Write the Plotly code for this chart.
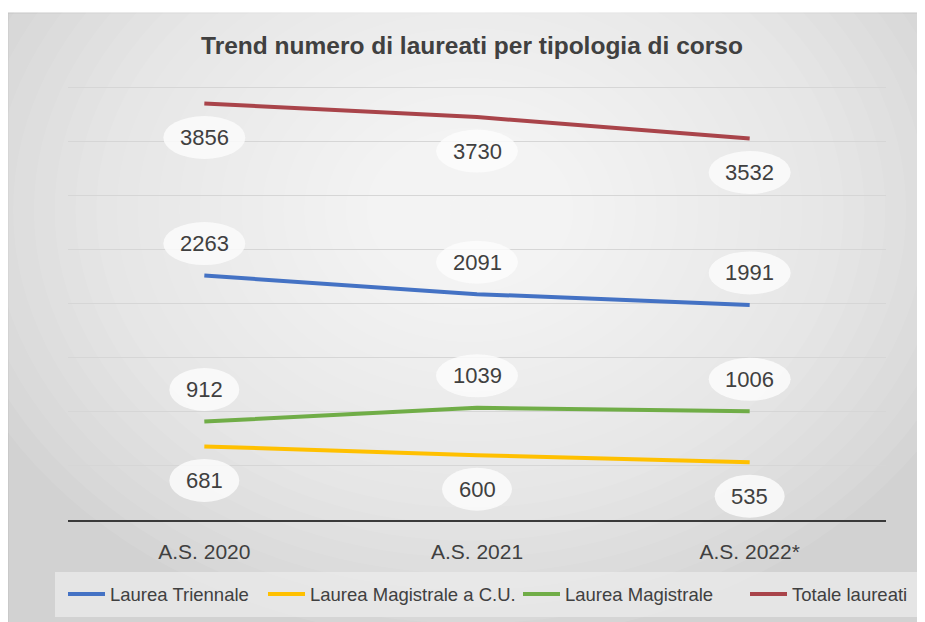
import plotly.graph_objects as go

# --- data -----------------------------------------------------------------
categories = ["A.S. 2020", "A.S. 2021", "A.S. 2022*"]
triennale = [2263, 2091, 1991]
magistrale_cu = [681, 600, 535]
magistrale = [912, 1039, 1006]
totale = [3856, 3730, 3532]

# name, values, colour, label offset in px (positive = above the line)
series = [
    ("Laurea Triennale", triennale, "#4472C4", 32),
    ("Laurea Magistrale a C.U.", magistrale_cu, "#FFC000", -34),
    ("Laurea Magistrale", magistrale, "#70AD47", 32),
    ("Totale laureati", totale, "#A9444A", -34),
]
# left edge (page px) of each hand-placed legend entry
legend_left = [68, 268, 523, 750]

FONT = "Liberation Sans, Arial, sans-serif"
TEXT = "#404040"
PAGE = 8  # body margin of the html page

# plot area in page pixels: x 68..886, y 86..520 (top gridline sits at 88)
L, R, T, B = 68, 886, 86, 520
W, H = R - L, B - T
Y_TOP = 4018  # a little headroom so the 4000 gridline is not clipped


def px_x(px):
    return (px - L) / W


def px_y(py):
    return (B - py) / H


xs = list(range(len(categories)))
fig = go.Figure()
for name, vals, color, _ in series:
    fig.add_trace(go.Scatter(
        x=xs, y=vals, name=name, mode="lines",
        line={"color": color, "width": 4},
        hoverinfo="skip",
    ))

shapes = []
# chart frame with a soft radial gradient
shapes.append(dict(
    type="rect", xref="paper", yref="paper", layer="below",
    x0=px_x(8), x1=px_x(940), y0=px_y(640), y1=px_y(13),
    fillcolor="#d2d2d2", line={"color": "#bfbfbf", "width": 1},
))
cx, cy = px_x(470), px_y(210)
rx, ry = 540 / W, 430 / H
n_rings = 26
for k in range(n_rings):
    s = 1 - k / n_rings
    shapes.append(dict(
        type="circle", xref="paper", yref="paper", layer="below",
        x0=cx - rx * s, x1=cx + rx * s, y0=cy - ry * s, y1=cy + ry * s,
        fillcolor="rgba(255,255,255,0.075)", line={"width": 0},
    ))
# legend panel
shapes.append(dict(
    type="rect", xref="paper", yref="paper", layer="below",
    x0=px_x(55), x1=px_x(920), y0=px_y(617), y1=px_y(572),
    fillcolor="rgba(236,236,236,0.7)", line={"width": 0},
))

annotations = []
for name, vals, color, off in series:
    for i, v in enumerate(vals):
        half_w = 41 if v >= 1000 else 35
        shapes.append(dict(
            type="circle", xref="x", yref="y", layer="above",
            xsizemode="pixel", ysizemode="pixel", xanchor=i, yanchor=v,
            x0=-half_w, x1=half_w, y0=off - 21.5, y1=off + 21.5,
            fillcolor="rgba(252,252,252,0.85)", line={"width": 0},
        ))
        annotations.append(dict(
            x=i, y=v, xref="x", yref="y", text=str(v), showarrow=False,
            yshift=off, font={"family": FONT, "size": 22, "color": TEXT},
        ))

# legend drawn by hand so it keeps one row at the reference positions
for (name, _, color, _), left in zip(series, legend_left):
    shapes.append(dict(
        type="line", xref="paper", yref="paper", layer="above",
        x0=px_x(left), x1=px_x(left + 37), y0=px_y(594), y1=px_y(594),
        line={"color": color, "width": 4},
    ))
    annotations.append(dict(
        x=px_x(left + 40), y=px_y(594), xref="paper", yref="paper",
        xanchor="left", yanchor="middle", text=name, showarrow=False,
        font={"family": FONT, "size": 18.5, "color": TEXT},
    ))

fig.update_layout(
    width=925, height=622,
    margin={"l": L - PAGE, "r": 925 - R + PAGE, "t": T - PAGE, "b": 622 - B + PAGE},
    paper_bgcolor="white", plot_bgcolor="rgba(0,0,0,0)",
    title={
        "text": "<b>Trend numero di laureati per tipologia di corso</b>",
        "x": px_x(472), "xref": "paper", "xanchor": "center",
        "y": 1 - (45 - PAGE) / 622, "yanchor": "middle",
        "font": {"family": FONT, "size": 24.5, "color": TEXT},
    },
    showlegend=False,
    shapes=shapes,
    annotations=annotations,
)
fig.update_xaxes(
    range=[-0.5, len(categories) - 0.5], tickvals=xs, ticktext=categories,
    showgrid=False, zeroline=False, showline=True, linecolor="#3a3a3a", linewidth=2,
    ticks="", ticklabelstandoff=12,
    tickfont={"family": FONT, "size": 21, "color": TEXT}, fixedrange=True,
)
fig.update_yaxes(
    range=[0, Y_TOP], dtick=500, showticklabels=False, showgrid=True,
    gridcolor="#d6d6d6", gridwidth=1, zeroline=False, fixedrange=True,
)

fig.write_html("out.html")
